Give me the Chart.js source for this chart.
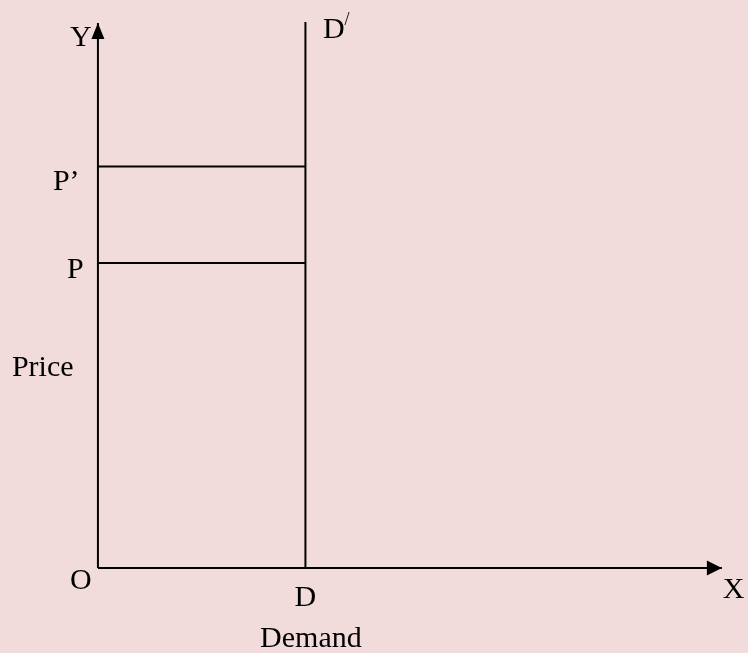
<!DOCTYPE html>
<html>
<head>
<meta charset="utf-8">
<title>Perfectly inelastic demand</title>
<script src="https://cdn.jsdelivr.net/npm/chart.js@4.4.1/dist/chart.umd.min.js"></script>
<style>
    html, body { margin: 0; padding: 0; background: #f2dcdb; }
    canvas { display: block; }
</style>
</head>
<body>
<canvas id="demandChart" width="748" height="653"></canvas>
<script>
// quantity demanded (fixed) and the two prices
const demandQty = [10, 10];
const demandPrice = [0, 53.7];
const prices = [30, 39.5];          // P, P'
const priceLabels = ["P", "P\u2019"];
const axisEnds = { x: 30.07, y: 53.6 };

const FONT = "30px 'Liberation Serif', 'Times New Roman', serif";

function seg(a, b) {
    return {
        data: [a, b],
        showLine: true,
        borderColor: "#000",
        borderWidth: 2,
        pointRadius: 0,
        fill: false
    };
}

const datasets = [
    seg({ x: 0, y: 0 }, { x: 0, y: axisEnds.y }),
    seg({ x: 0, y: 0 }, { x: axisEnds.x, y: 0 }),
    seg({ x: demandQty[0], y: demandPrice[0] }, { x: demandQty[1], y: demandPrice[1] })
];
prices.forEach(p => datasets.push(seg({ x: 0, y: p }, { x: demandQty[0], y: p })));

// arrows, text and background
const decorPlugin = {
    id: "decor",
    beforeDraw(chart) {
        const c = chart.ctx;
        c.save();
        c.fillStyle = "#f2dcdb";
        c.fillRect(0, 0, chart.width, chart.height);
        c.restore();
    },
    afterDatasetsDraw(chart) {
        const c = chart.ctx;
        const sx = chart.scales.x, sy = chart.scales.y;
        const px = v => sx.getPixelForValue(v);
        const py = v => sy.getPixelForValue(v);

        c.save();
        c.fillStyle = "#000";

        // arrow on Y axis
        let tx = px(0), ty = py(axisEnds.y);
        c.beginPath();
        c.moveTo(tx, ty);
        c.lineTo(tx - 6.5, ty + 16);
        c.lineTo(tx + 6.5, ty + 16);
        c.closePath();
        c.fill();

        // arrow on X axis
        tx = px(axisEnds.x); ty = py(0);
        c.beginPath();
        c.moveTo(tx, ty);
        c.lineTo(tx - 15, ty - 7.5);
        c.lineTo(tx - 15, ty + 7.5);
        c.closePath();
        c.fill();

        c.font = FONT;
        c.textBaseline = "alphabetic";
        c.textAlign = "left";

        c.fillText("Y", px(0) - 28, py(axisEnds.y) + 23);
        c.fillText("X", px(axisEnds.x) + 1, py(0) + 30);
        c.fillText("O", px(0) - 28, py(0) + 21);
        c.fillText("Price", px(0) - 86, py(0) - 192);

        c.fillText(priceLabels[0], px(0) - 31, py(prices[0]) + 15);
        c.fillText(priceLabels[1], px(0) - 45, py(prices[1]) + 24);

        // D' at top of the demand line
        const dTop = py(demandPrice[1]);
        c.fillText("D", px(demandQty[1]) + 17.5, dTop + 16);
        c.font = "18px 'Liberation Serif', 'Times New Roman', serif";
        c.fillText("/", px(demandQty[1]) + 39, dTop + 3);

        c.font = FONT;
        c.textAlign = "center";
        c.fillText("D", px(demandQty[0]), py(0) + 38);
        c.fillText("Demand", px(demandQty[0]) + 5.5, py(0) + 79);

        c.restore();
    }
};

new Chart(document.getElementById("demandChart"), {
    type: "scatter",
    data: { datasets: datasets },
    options: {
        responsive: false,
        animation: false,
        layout: { padding: 0 },
        plugins: {
            legend: { display: false },
            tooltip: { enabled: false }
        },
        scales: {
            x: { type: "linear", display: false, min: -4.72, max: 31.33 },
            y: { type: "linear", display: false, min: -8.36, max: 55.87 }
        }
    },
    plugins: [decorPlugin]
});
</script>
</body>
</html>
